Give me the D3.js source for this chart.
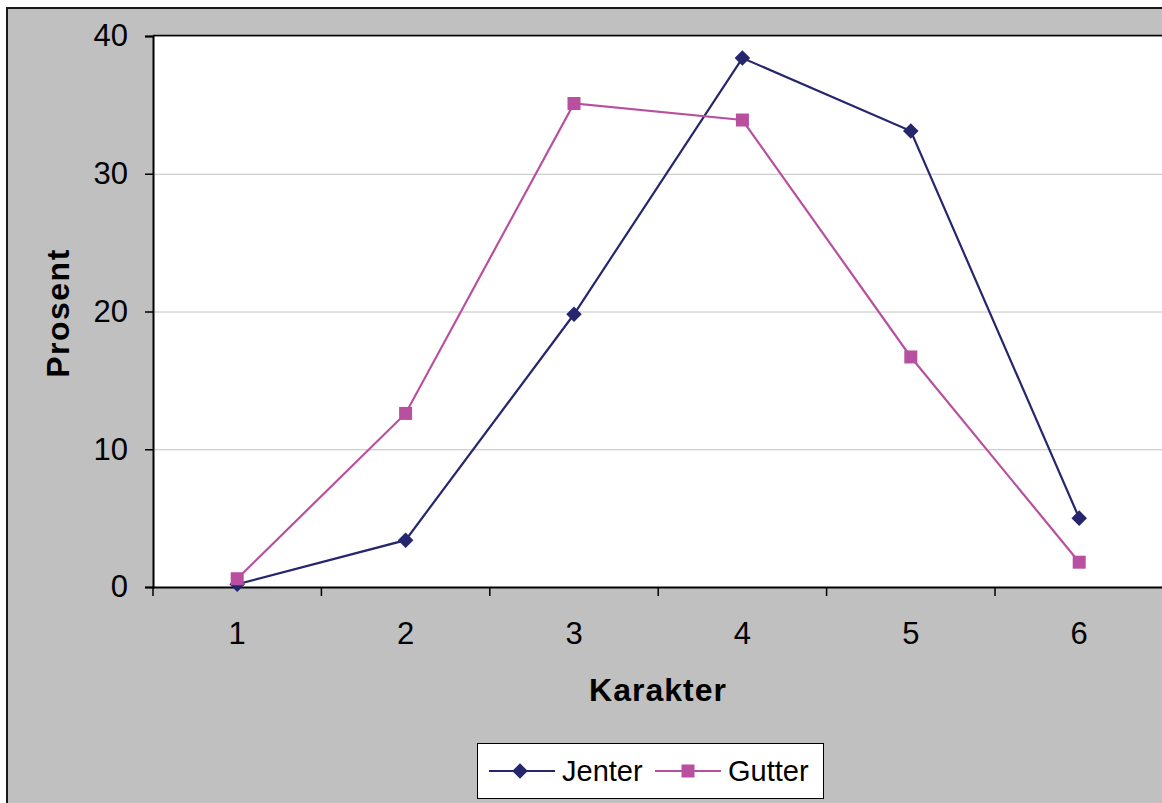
<!DOCTYPE html>
<html><head><meta charset="utf-8">
<script src="https://cdn.jsdelivr.net/npm/d3@7"></script>
<style>body{margin:0;background:#fff;}svg{display:block;font-family:"Liberation Sans",Arial,sans-serif;}</style>
</head><body>
<svg id="c" width="1162" height="803"></svg>
<script>
const categories = ["1","2","3","4","5","6"];
const jenter = [0.2, 3.4, 19.8, 38.4, 33.1, 5.0];
const gutter = [0.6, 12.6, 35.1, 33.9, 16.7, 1.8];
const yTicks = [0, 10, 20, 30, 40];
const seriesNames = ["Jenter", "Gutter"];
const colors = ["#26266f", "#b9509f"];

const svg = d3.select("#c");
svg.append("rect").attr("x",7).attr("y",8).attr("width",1170).attr("height",810)
  .attr("fill","#c0c0c0").attr("stroke","#1a1a1a").attr("stroke-width",2);

const L=153, T=36, B=587, R=153+6*168.4;
const x = d3.scaleBand().domain(categories).range([L,R]);
const y = d3.scaleLinear().domain([0,40]).range([B,T]);

svg.append("rect").attr("x",L).attr("y",T).attr("width",R-L+20).attr("height",B-T).attr("fill","#fff");

svg.append("g").selectAll("line").data(yTicks.filter(d=>d>0)).join("line")
  .attr("x1",L).attr("x2",1170).attr("y1",d=>y(d)+0.5).attr("y2",d=>y(d)+0.5)
  .attr("stroke","#c0c0c0").attr("stroke-width",1);
svg.append("line").attr("x1",L).attr("x2",1170).attr("y1",T-0.5).attr("y2",T-0.5).attr("stroke","#000").attr("stroke-width",1.5);

const ya = svg.append("g").attr("transform",`translate(${L},0)`)
  .call(d3.axisLeft(y).tickValues(yTicks).tickSize(8).tickPadding(17));
ya.select(".domain").attr("stroke","#000").attr("stroke-width",2);
ya.selectAll(".tick line").attr("stroke","#000").attr("stroke-width",1.5);
ya.selectAll("text").attr("font-size",31).attr("fill","#000").attr("font-family","Liberation Sans, Arial, sans-serif");

const xa = svg.append("g").attr("transform",`translate(0,${B})`)
  .call(d3.axisBottom(x).tickSize(0).tickPadding(35));
xa.select(".domain").attr("stroke","#000").attr("stroke-width",2);
xa.selectAll("text").attr("font-size",31).attr("fill","#000").attr("font-family","Liberation Sans, Arial, sans-serif");
svg.append("g").selectAll("line").data(d3.range(categories.length+1)).join("line")
  .attr("x1",i=>L+i*x.step()).attr("x2",i=>L+i*x.step()).attr("y1",B).attr("y2",B+9)
  .attr("stroke","#000").attr("stroke-width",1.5);

svg.append("text").attr("x",658).attr("y",701).attr("text-anchor","middle")
  .attr("font-size",32).attr("font-weight","bold").attr("letter-spacing",1).text("Karakter");
svg.append("text").attr("transform","translate(69,313) rotate(-90)").attr("text-anchor","middle")
  .attr("font-size",32).attr("font-weight","bold").attr("letter-spacing",1.5).text("Prosent");

const cx = c => x(c)+x.bandwidth()/2;
const line = d3.line().x((d,i)=>cx(categories[i])).y(d=>y(d));
const data = [jenter, gutter];

data.forEach((vals,si)=>{
  svg.append("path").attr("d",line(vals)).attr("fill","none").attr("stroke",colors[si]).attr("stroke-width",2.2);
  const g = svg.append("g");
  vals.forEach((v,i)=>{
    if(si===0){
      g.append("rect").attr("x",-5.5).attr("y",-5.5).attr("width",11).attr("height",11)
        .attr("fill",colors[si]).attr("transform",`translate(${cx(categories[i])},${y(v)}) rotate(45)`);
    } else {
      g.append("rect").attr("x",cx(categories[i])-6.5).attr("y",y(v)-6.5).attr("width",13).attr("height",13)
        .attr("fill",colors[si]);
    }
  });
});

const lg = svg.append("g");
lg.append("rect").attr("x",477.5).attr("y",743.5).attr("width",346).attr("height",55)
  .attr("fill","#fff").attr("stroke","#000").attr("stroke-width",1);
const legX = [489, 655];
seriesNames.forEach((n,i)=>{
  const x0 = legX[i];
  lg.append("line").attr("x1",x0).attr("x2",x0+66).attr("y1",771).attr("y2",771)
    .attr("stroke",colors[i]).attr("stroke-width",2.2);
  if(i===0){
    lg.append("rect").attr("x",-5.5).attr("y",-5.5).attr("width",11).attr("height",11)
      .attr("fill",colors[i]).attr("transform",`translate(${x0+31},771) rotate(45)`);
  } else {
    lg.append("rect").attr("x",x0+33-6.5).attr("y",771-6.5).attr("width",13).attr("height",13).attr("fill",colors[i]);
  }
  lg.append("text").attr("x",x0+73).attr("y",781).attr("font-size",29).text(n);
});
</script>
</body></html>
